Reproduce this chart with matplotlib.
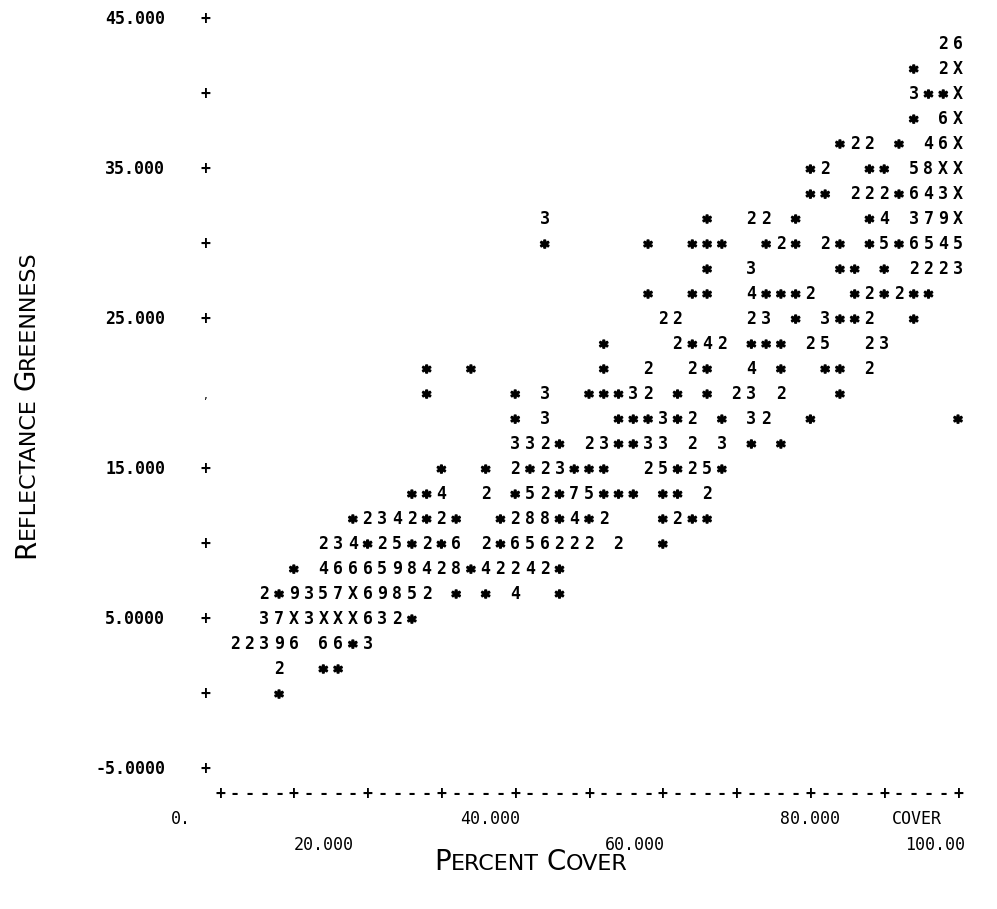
import matplotlib
matplotlib.use("Agg")
import matplotlib.pyplot as plt
from matplotlib import transforms
import matplotlib.patheffects as pe

# printed rows of the line-printer plot: greenness value of each row and
# the runs printed on it as (percent cover of first char, characters)
row_y = [43.33, 41.67, 40.0, 38.33, 36.67, 35.0, 33.33, 31.67, 30.0, 28.33,
         26.67, 25.0, 23.33, 21.67, 20.0, 18.33, 16.67, 15.0, 13.33, 11.67,
         10.0, 8.33, 6.67, 5.0, 3.33, 1.67, 0.0]
row_runs = [
    [(98, "26")],
    [(94, "*"), (98, "2X")],
    [(94, "3**X")],
    [(94, "*"), (98, "6X")],
    [(84, "*22 * 46X")],
    [(80, "*2"), (88, "**"), (94, "58XX")],
    [(80, "** 222*643X")],
    [(44, "3"), (66, "*"), (72, "22"), (78, "*"), (88, "*4 379X")],
    [(44, "*"), (58, "*"), (64, "***"), (74, "*2*"), (82, "2*"), (88, "*5*6545")],
    [(66, "*"), (72, "3"), (84, "**"), (90, "*"), (94, "2223")],
    [(58, "*"), (64, "**"), (72, "4***2"), (86, "*2*2**")],
    [(60, "22"), (72, "23"), (78, "*"), (82, "3**2"), (94, "*")],
    [(52, "*"), (62, "2*42"), (72, "***"), (80, "25"), (88, "23")],
    [(28, "*"), (34, "*"), (52, "*"), (58, "2"), (64, "2*"), (72, "4"), (76, "*"),
     (82, "**"), (88, "2")],
    [(28, "*"), (40, "*"), (44, "3"), (50, "***32"), (62, "*"), (66, "*"),
     (70, "23"), (76, "2"), (84, "*")],
    [(40, "*"), (44, "3"), (54, "***3*2"), (68, "*"), (72, "32"), (80, "*"), (100, "*")],
    [(40, "332*"), (50, "23**33"), (64, "2"), (68, "3"), (72, "*"), (76, "*")],
    [(30, "*"), (36, "*"), (40, "2*23***"), (58, "25*25*")],
    [(26, "**4"), (36, "2"), (40, "*52*75***"), (60, "**"), (66, "2")],
    [(18, "*2342*2*"), (38, "*288*4*2"), (60, "*2**")],
    [(14, "234*25*2*6"), (36, "2*656222"), (54, "2"), (60, "*")],
    [(10, "*"), (14, "4666598428*42242*")],
    [(6, "2*9357X69852"), (32, "*"), (36, "*"), (40, "4"), (46, "*")],
    [(6, "37X3XXX632*")],
    [(2, "22396"), (14, "66*3")],
    [(8, "2"), (14, "**")],
    [(8, "*")],
]

y_ticks = [45, 40, 35, 30, 25, 15, 10, 5, 0, -5]
y_labels = {45: "45.000", 35: "35.000", 25: "25.000", 15: "15.000",
            5: "5.0000", -5: "-5.0000"}
x_labels_top = [(-5.3, "0."), (36.6, "40.000"), (80.0, "80.000"), (94.4, "COVER")]
x_labels_low = [(14.0, "20.000"), (56.2, "60.000")]
x_axis_y = -6.667
col_step = 2

W, H = 997, 909
fig = plt.figure(figsize=(W / 100, H / 100), dpi=100)
ax = fig.add_axes([220 / W, 116 / H, 738 / W, 775 / H])
ax.set_xlim(0, 100)
ax.set_ylim(x_axis_y, 45)
ax.axis("off")

mono = "DejaVu Sans Mono"
digit_tr = transforms.offset_copy(ax.transData, fig=fig, x=0, y=-4.4, units="points")
star_tr = transforms.offset_copy(ax.transData, fig=fig, x=0, y=-6.9, units="points")
blob = [pe.withStroke(linewidth=1.3, foreground="black")]


def put(x, y, ch, size=12):
    if ch == " ":
        return
    if ch == "*":
        ax.text(x, y, ch, transform=star_tr, fontsize=size, family=mono,
                fontweight="bold", ha="center", va="baseline", clip_on=False,
                path_effects=blob)
    else:
        ax.text(x, y, ch, transform=digit_tr, fontsize=size, family=mono,
                fontweight="bold", ha="center", va="baseline", clip_on=False)


# data characters
for y, runs in zip(row_y, row_runs):
    for x0, s in runs:
        for i, ch in enumerate(s):
            put(x0 + col_step * i, y, ch)

# vertical axis marks and labels
for t in y_ticks:
    put(-2, t, "+")
ax.text(-2, 20, ",", transform=digit_tr, fontsize=7, family=mono,
        ha="center", va="baseline", clip_on=False)
for t, lab in y_labels.items():
    ax.text(-7.45, t, lab, transform=digit_tr, fontsize=12, family=mono,
            fontweight="bold", ha="right", va="baseline", clip_on=False)

# horizontal axis line
for i in range(51):
    x = col_step * i
    put(x, x_axis_y, "+" if x % 10 == 0 else "-")

for x, lab in x_labels_top:
    ax.text(x, -8.33, lab, transform=digit_tr, fontsize=12, family=mono,
            ha="center", va="baseline", clip_on=False)
for x, lab in x_labels_low:
    ax.text(x, -10.07, lab, transform=digit_tr, fontsize=12, family=mono,
            ha="center", va="baseline", clip_on=False)
ax.text(92.8, -10.07, "100.00", transform=digit_tr, fontsize=12, family=mono,
        ha="left", va="baseline", clip_on=False)


def small_caps(parts, x, y, vertical=False, gap=7):
    # parts alternate capital / small-capital pieces; a gap opens each new word
    texts = []
    for s, size in parts:
        texts.append(fig.text(0, 0, s, fontsize=size, family="DejaVu Sans",
                              ha="left", va="baseline",
                              rotation=90 if vertical else 0,
                              rotation_mode="anchor"))
    fig.canvas.draw()
    r = fig.canvas.get_renderer()
    lens = []
    for t in texts:
        e = t.get_window_extent(r)
        lens.append(e.height if vertical else e.width)
    new_word = [i > 0 and parts[i][1] > parts[i - 1][1] for i in range(len(parts))]
    total = sum(lens) + gap * sum(new_word)
    pos = (y if vertical else x) - total / 2
    for t, L, nw in zip(texts, lens, new_word):
        if nw:
            pos += gap
        if vertical:
            t.set_position((x / W, pos / H))
        else:
            t.set_position((pos / W, y / H))
        pos += L


small_caps([("P", 20), ("ERCENT", 16), ("C", 20), ("OVER", 16)], 531, H - 870)
small_caps([("R", 20), ("EFLECTANCE", 16), ("G", 20), ("REENNESS", 16)],
           34, H - 404, vertical=True)

fig.savefig("out.png", dpi=100)
